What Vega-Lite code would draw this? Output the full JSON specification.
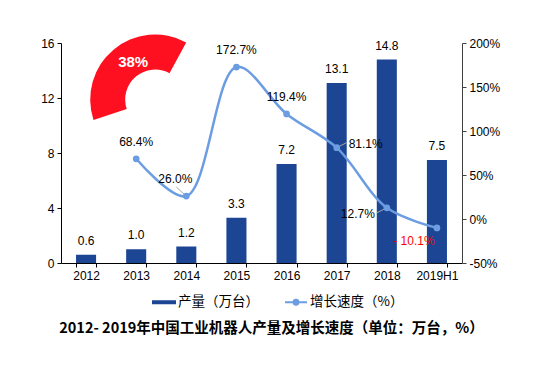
{
  "$schema": "https://vega.github.io/schema/vega-lite/v6.json",
  "width": 401,
  "height": 220,
  "autosize": {"type": "none"},
  "padding": {"left": 61, "top": 43, "right": 77, "bottom": 107},
  "background": "#ffffff",
  "config": {
    "view": {"stroke": null},
    "font": "Liberation Sans",
    "axis": {
      "grid": false,
      "title": null,
      "labelFont": "Liberation Sans",
      "labelFontSize": 12,
      "labelColor": "#000000",
      "domainColor": "#000000",
      "tickColor": "#000000",
      "tickSize": 4,
      "labelPadding": 3
    }
  },
  "title": {
    "text": "2012- 2019年中国工业机器人产量及增长速度（单位：万台，%）",
    "orient": "bottom",
    "anchor": "middle",
    "font": "Noto Sans CJK SC",
    "fontSize": 14.5,
    "fontWeight": "bold",
    "color": "#000000",
    "offset": 13,
    "dx": 10
  },
  "datasets": {
    "prod": [
      {"year": "2012", "output": 0.6},
      {"year": "2013", "output": 1.0},
      {"year": "2014", "output": 1.2},
      {"year": "2015", "output": 3.3},
      {"year": "2016", "output": 7.2},
      {"year": "2017", "output": 13.1},
      {"year": "2018", "output": 14.8},
      {"year": "2019H1", "output": 7.5}
    ],
    "growth": [
      {"year": "2013", "rate": 68.4, "label": "68.4%"},
      {"year": "2014", "rate": 26.0, "label": "26.0%"},
      {"year": "2015", "rate": 172.7, "label": "172.7%"},
      {"year": "2016", "rate": 119.4, "label": "119.4%"},
      {"year": "2017", "rate": 81.1, "label": "81.1%"},
      {"year": "2018", "rate": 12.7, "label": "12.7%"},
      {"year": "2019H1", "rate": -10.1, "label": "- 10.1%"}
    ],
    "gauge": [
      {"year": "2013", "level": 11.89, "share": 38, "label": "38%"}
    ]
  },
  "encoding": {
    "x": {
      "field": "year",
      "type": "nominal",
      "sort": null,
      "scale": {"paddingInner": 0.6, "paddingOuter": 0.3},
      "axis": {"labelAngle": 0, "tickBand": "extent", "domainColor": "#000000"}
    }
  },
  "layer": [
    {
      "layer": [
        {
          "data": {"name": "prod"},
          "mark": {"type": "bar"},
          "encoding": {
            "y": {
              "field": "output",
              "type": "quantitative",
              "scale": {"domain": [0, 16], "nice": false},
              "axis": {"orient": "left", "values": [0, 4, 8, 12, 16]}
            },
            "color": {
              "datum": "产量（万台）",
              "type": "nominal",
              "scale": {
                "domain": ["产量（万台）", "增长速度（%）"],
                "range": ["#1c4594", "#6c9de2"]
              },
              "legend": {
                "orient": "none",
                "legendX": 91,
                "legendY": 247,
                "direction": "horizontal",
                "title": null,
                "symbolType": "M-1,-0.1H1V0.1H-1Z",
                "symbolSize": 484,
                "labelFont": "Noto Sans CJK SC",
                "labelFontSize": 13.5,
                "labelColor": "#000000",
                "labelOffset": 2,
                "columnPadding": 22,
                "padding": 0,
                "encode": {
                  "symbols": {
                    "update": {
                      "shape": {"signal": "datum.value == '产量（万台）' ? 'M-1,-0.1H1V0.1H-1Z' : 'M-1,0H1M-0.22,0A0.22,0.22 0 1,0 0.22,0A0.22,0.22 0 1,0 -0.22,0Z'"},
                      "fill": {"scale": "color", "field": "value"},
                      "stroke": {"scale": "color", "field": "value"},
                      "strokeWidth": {"value": 2},
                      "opacity": {"value": 1}
                    }
                  }
                }
              }
            }
          }
        },
        {
          "data": {"name": "prod"},
          "mark": {"type": "text", "fontSize": 12, "baseline": "middle", "dy": -14, "color": "#000000"},
          "encoding": {
            "y": {"field": "output", "type": "quantitative"},
            "text": {"field": "output", "type": "quantitative", "format": ".1f"}
          }
        },
        {
          "data": {"name": "gauge"},
          "mark": {"type": "arc", "innerRadius": 30, "outerRadius": 65, "color": "#ff1020", "xOffset": 19},
          "encoding": {
            "y": {"field": "level", "type": "quantitative"},
            "theta": {
              "field": "share",
              "type": "quantitative",
              "scale": {"domain": [0, 100], "range": [-1.89, 4.393]}
            }
          }
        },
        {
          "data": {"name": "gauge"},
          "mark": {"type": "text", "fontSize": 15, "fontWeight": "bold", "color": "#ffffff", "dx": -3, "dy": -38, "baseline": "middle"},
          "encoding": {
            "y": {"field": "level", "type": "quantitative"},
            "text": {"field": "label"}
          }
        }
      ]
    },
    {
      "data": {"name": "growth"},
      "layer": [
        {
          "transform": [{"filter": "datum.year == '2014'"}],
          "mark": {"type": "rule", "color": "#a6a6a6", "strokeWidth": 1, "x2Offset": -10, "y2Offset": -9},
          "encoding": {
            "y": {"field": "rate", "type": "quantitative"},
            "x2": {"field": "year"},
            "y2": {"field": "rate"}
          }
        },
        {
          "transform": [{"filter": "datum.year == '2017'"}],
          "mark": {"type": "rule", "color": "#a6a6a6", "strokeWidth": 1, "x2Offset": 10, "y2Offset": -5},
          "encoding": {
            "y": {"field": "rate", "type": "quantitative"},
            "x2": {"field": "year"},
            "y2": {"field": "rate"}
          }
        },
        {
          "transform": [{"filter": "datum.year == '2018'"}],
          "mark": {"type": "rule", "color": "#a6a6a6", "strokeWidth": 1, "x2Offset": -10, "y2Offset": 5},
          "encoding": {
            "y": {"field": "rate", "type": "quantitative"},
            "x2": {"field": "year"},
            "y2": {"field": "rate"}
          }
        },
        {
          "mark": {"type": "line", "interpolate": "catmull-rom", "strokeWidth": 2.5},
          "encoding": {
            "y": {
              "field": "rate",
              "type": "quantitative",
              "scale": {"domain": [-50, 200], "nice": false},
              "axis": {
                "orient": "right",
                "values": [-50, 0, 50, 100, 150, 200],
                "labelExpr": "datum.value + '%'",
                "domainColor": "#404040",
                "tickColor": "#404040",
                "labelFontSize": 12
              }
            },
            "color": {"datum": "增长速度（%）", "type": "nominal"}
          }
        },
        {
          "mark": {"type": "circle", "size": 45, "color": "#6c9de2", "opacity": 1},
          "encoding": {"y": {"field": "rate", "type": "quantitative"}}
        },
        {
          "transform": [{"filter": "datum.year == '2013' || datum.year == '2015' || datum.year == '2016'"}],
          "mark": {"type": "text", "fontSize": 12, "baseline": "middle", "dy": -17, "color": "#000000"},
          "encoding": {"y": {"field": "rate", "type": "quantitative"}, "text": {"field": "label"}}
        },
        {
          "transform": [{"filter": "datum.year == '2014'"}],
          "mark": {"type": "text", "fontSize": 12, "baseline": "middle", "dx": -11, "dy": -17, "color": "#000000"},
          "encoding": {"y": {"field": "rate", "type": "quantitative"}, "text": {"field": "label"}}
        },
        {
          "transform": [{"filter": "datum.year == '2017'"}],
          "mark": {"type": "text", "fontSize": 12, "baseline": "middle", "align": "left", "dx": 12, "dy": -4, "color": "#000000"},
          "encoding": {"y": {"field": "rate", "type": "quantitative"}, "text": {"field": "label"}}
        },
        {
          "transform": [{"filter": "datum.year == '2018'"}],
          "mark": {"type": "text", "fontSize": 12, "baseline": "middle", "align": "right", "dx": -12, "dy": 6, "color": "#000000"},
          "encoding": {"y": {"field": "rate", "type": "quantitative"}, "text": {"field": "label"}}
        },
        {
          "transform": [{"filter": "datum.year == '2019H1'"}],
          "mark": {"type": "text", "fontSize": 12, "baseline": "middle", "dx": -23, "dy": 13, "color": "#ff0000"},
          "encoding": {"y": {"field": "rate", "type": "quantitative"}, "text": {"field": "label"}}
        }
      ]
    }
  ],
  "resolve": {"scale": {"y": "independent"}}
}
